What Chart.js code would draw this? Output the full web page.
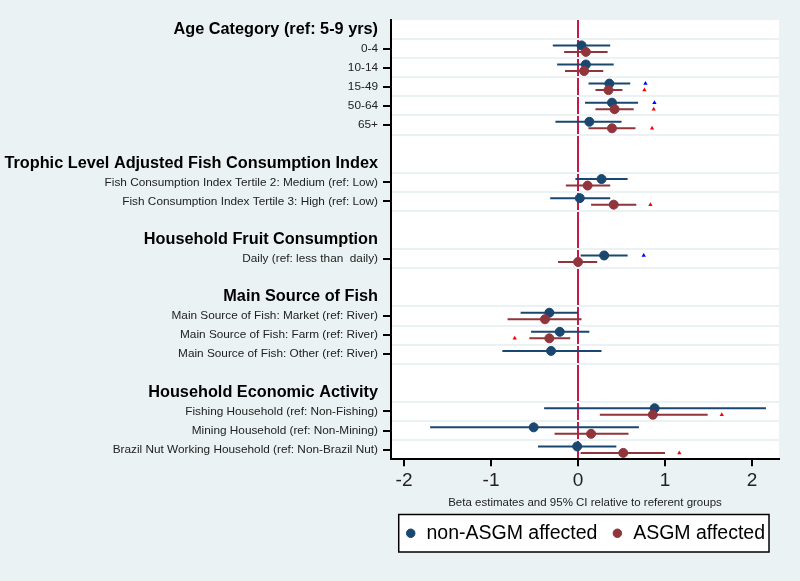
<!DOCTYPE html>
<html>
<head>
<meta charset="utf-8">
<script src="https://cdn.jsdelivr.net/npm/chart.js@4"></script>
<style>
  body { margin: 0; background: #eaf2f3; }
  #wrap { width: 800px; height: 581px; }
</style>
</head>
<body>
<div id="wrap"><canvas id="forest" width="800" height="581"></canvas></div>
<script>
// rows top to bottom; '' = spacer row
const rowLabels = [
  'Age Category (ref: 5-9 yrs)', '0-4', '10-14', '15-49', '50-64', '65+', '',
  'Trophic Level Adjusted Fish Consumption Index',
  'Fish Consumption Index Tertile 2: Medium (ref: Low)',
  'Fish Consumption Index Tertile 3: High (ref: Low)', '',
  'Household Fruit Consumption', 'Daily (ref: less than  daily)', '',
  'Main Source of Fish',
  'Main Source of Fish: Market (ref: River)',
  'Main Source of Fish: Farm (ref: River)',
  'Main Source of Fish: Other (ref: River)', '',
  'Household Economic Activity',
  'Fishing Household (ref: Non-Fishing)',
  'Mining Household (ref: Non-Mining)',
  'Brazil Nut Working Household (ref: Non-Brazil Nut)'
];
const headerRows = [0, 7, 11, 14, 19];

const nonEst  = [null, 0.04, 0.09, 0.36, 0.39, 0.13, null, null, 0.27, 0.02, null, null, 0.30, null, null, -0.33, -0.21, -0.31, null, null, 0.88, -0.51, -0.01];
const nonLo   = [null, -0.29, -0.24, 0.12, 0.08, -0.26, null, null, -0.03, -0.32, null, null, 0.03, null, null, -0.66, -0.54, -0.87, null, null, -0.39, -1.70, -0.46];
const nonHi   = [null, 0.37, 0.41, 0.60, 0.69, 0.50, null, null, 0.57, 0.37, null, null, 0.57, null, null, 0.00, 0.13, 0.27, null, null, 2.16, 0.70, 0.44];
const asgmEst = [null, 0.09, 0.07, 0.35, 0.42, 0.39, null, null, 0.11, 0.41, null, null, 0.00, null, null, -0.38, -0.33, null, null, null, 0.86, 0.15, 0.52];
const asgmLo  = [null, -0.16, -0.15, 0.20, 0.20, 0.12, null, null, -0.14, 0.15, null, null, -0.23, null, null, -0.81, -0.56, null, null, null, 0.25, -0.27, 0.03];
const asgmHi  = [null, 0.34, 0.29, 0.51, 0.64, 0.66, null, null, 0.37, 0.67, null, null, 0.22, null, null, 0.04, -0.09, null, null, null, 1.49, 0.58, 1.00];
// significance markers (x where the small triangle sits)
const nonSig  = [null, null, null, 0.775, 0.878, null, null, null, null, null, null, null, 0.755, null, null, null, null, null, null, null, null, null, null];
const asgmSig = [null, null, null, 0.763, 0.870, 0.851, null, null, null, 0.832, null, null, null, null, null, null, -0.728, null, null, null, 1.652, null, 1.164];
const xTicks = [-2, -1, 0, 1, 2];

const NAVY = '#1a476f';
const MAROON = '#90353b';
const BG = '#eaf2f3';
const SHIFT = 0.17;
const FONT = "'Liberation Sans', Arial, sans-serif";
const CLEAR = 'rgba(0,0,0,0)';

function points(xs, shift) {
  const out = [];
  xs.forEach((x, i) => { if (x !== null) out.push({ x: x, y: i + shift }); });
  return out;
}
function bars(lo, hi, shift) {
  const out = [];
  lo.forEach((l, i) => {
    if (l === null) return;
    out.push({ x: l, y: i + shift }, { x: hi[i], y: i + shift }, { x: null, y: null });
  });
  return out;
}

// y ticks every half row: whole values carry labels + tick marks,
// half values carry the light separator lines
const tv = c => (c && c.tick ? c.tick.value : -1);
const isRow = v => Number.isInteger(v) && v >= 0;
const isHeader = v => headerRows.includes(v);
const isItem = v => isRow(v) && rowLabels[v] !== '' && !isHeader(v);
const isSeparator = v => !Number.isInteger(v) && v > 0 && v < rowLabels.length - 1 && rowLabels[Math.floor(v)] !== '';

const framePlugin = {
  id: 'frame',
  beforeDraw(chart) {
    const { ctx, chartArea } = chart;
    ctx.save();
    ctx.fillStyle = BG;
    ctx.fillRect(0, 0, chart.width, chart.height);
    ctx.fillStyle = '#fff';
    ctx.fillRect(chartArea.left, chartArea.top, chartArea.right - chartArea.left, chartArea.bottom - chartArea.top);
    const boxes = chart.legend.legendHitBoxes;
    if (boxes && boxes.length) {
      const l = Math.min(...boxes.map(b => b.left)) - 6;
      const r = Math.max(...boxes.map(b => b.left + b.width)) + 4;
      const t = boxes[0].top - 9;
      const b = boxes[0].top + boxes[0].height + 9;
      ctx.fillStyle = '#fff';
      ctx.fillRect(l, t, r - l, b - t);
      ctx.strokeStyle = '#000';
      ctx.lineWidth = 1.5;
      ctx.strokeRect(l, t, r - l, b - t);
    }
    ctx.restore();
  }
};

new Chart(document.getElementById('forest'), {
  type: 'scatter',
  data: {
    datasets: [
      { label: 'nonCI', data: bars(nonLo, nonHi, -SHIFT), showLine: true, spanGaps: false,
        borderColor: NAVY, borderWidth: 2, pointRadius: 0, order: 6 },
      { label: 'asgmCI', data: bars(asgmLo, asgmHi, SHIFT), showLine: true, spanGaps: false,
        borderColor: MAROON, borderWidth: 2, pointRadius: 0, order: 4 },
      { label: 'non-ASGM affected', data: points(nonEst, -SHIFT), backgroundColor: NAVY,
        borderColor: NAVY, pointRadius: 4.5, pointStyle: 'circle', order: 5 },
      { label: 'ASGM affected', data: points(asgmEst, SHIFT), backgroundColor: MAROON,
        borderColor: MAROON, pointRadius: 4.5, pointStyle: 'circle', order: 3 },
      { label: 'nonSig', data: points(nonSig, -SHIFT), backgroundColor: '#0000ff',
        borderColor: '#0000ff', pointStyle: 'triangle', pointRadius: 2.5, borderWidth: 0, order: 2 },
      { label: 'asgmSig', data: points(asgmSig, SHIFT), backgroundColor: '#ff0000',
        borderColor: '#ff0000', pointStyle: 'triangle', pointRadius: 2.5, borderWidth: 0, order: 1 }
    ]
  },
  options: {
    responsive: false,
    animation: false,
    layout: { padding: { top: 20, right: 21, bottom: 28, left: 3 } },
    plugins: {
      tooltip: { enabled: false },
      legend: {
        position: 'bottom',
        align: 'end',
        labels: {
          filter: item => item.text === 'non-ASGM affected' || item.text === 'ASGM affected',
          sort: (a, b) => a.datasetIndex - b.datasetIndex,
          usePointStyle: true,
          pointStyle: 'circle',
          boxWidth: 12,
          boxHeight: 6,
          padding: 14,
          color: '#000',
          font: { family: FONT, size: 19.5 }
        }
      }
    },
    scales: {
      x: {
        type: 'linear',
        min: -2.15,
        max: 2.31,
        afterBuildTicks: axis => { axis.ticks = xTicks.map(v => ({ value: v })); },
        ticks: { color: '#222', font: { family: FONT, size: 19, lineHeight: 0.92 }, padding: 6, autoSkip: false },
        grid: {
          color: c => (tv(c) === 0 ? '#c8174a' : CLEAR),
          lineWidth: 2,
          tickColor: '#000',
          tickWidth: 2,
          tickLength: 7
        },
        border: { display: true, color: '#000', width: 2 },
        title: {
          display: true,
          text: 'Beta estimates and 95% CI relative to referent groups',
          color: '#222',
          font: { family: FONT, size: 11.5 },
          padding: { top: 0, bottom: 0 }
        }
      },
      y: {
        type: 'linear',
        position: 'left',
        min: -0.5,
        max: 22.5,
        reverse: true,
        afterBuildTicks: axis => {
          const t = [];
          for (let v = 0; v < rowLabels.length; v += 0.5) t.push({ value: v });
          axis.ticks = t;
        },
        ticks: {
          autoSkip: false,
          padding: 5,
          callback: v => (isRow(v) ? rowLabels[v] : ''),
          color: c => (isHeader(tv(c)) ? '#000' : '#222'),
          font: c => (isHeader(tv(c))
            ? { family: FONT, size: 16.3, weight: 'bold' }
            : { family: FONT, size: 11.8 })
        },
        grid: {
          color: c => (isSeparator(tv(c)) ? BG : CLEAR),
          lineWidth: 2,
          tickLength: 8,
          tickWidth: 2,
          tickColor: c => (isItem(tv(c)) ? '#000' : CLEAR)
        },
        border: { display: true, color: '#000', width: 2 }
      }
    }
  },
  plugins: [framePlugin]
});
</script>
</body>
</html>
